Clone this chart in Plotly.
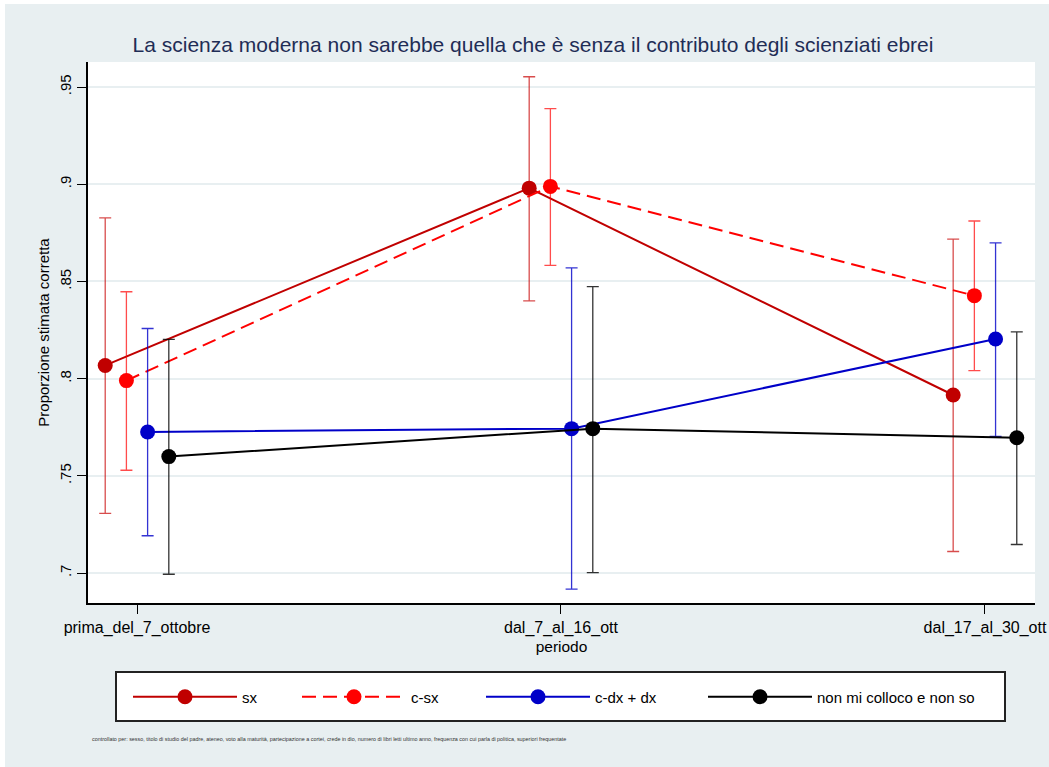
import plotly.graph_objects as go

# ---- data ----
categories = ["prima_del_7_ottobre", "dal_7_al_16_ott", "dal_17_al_30_ott"]
series_names = ["sx", "c-sx", "c-dx + dx", "non mi colloco e non so"]

sx = [0.8068, 0.8980, 0.7916]
sx_lo = [0.7307, 0.8400, 0.7111]
sx_hi = [0.8827, 0.9553, 0.8718]

csx = [0.7990, 0.8989, 0.8427]
csx_lo = [0.7529, 0.8583, 0.8041]
csx_hi = [0.8447, 0.9389, 0.8811]

cdx = [0.7726, 0.7743, 0.8204]
cdx_lo = [0.7192, 0.6917, 0.7703]
cdx_hi = [0.8258, 0.8570, 0.8699]

nonso = [0.7599, 0.7743, 0.7696]
nonso_lo = [0.6994, 0.7002, 0.7147]
nonso_hi = [0.8202, 0.8474, 0.8241]

offsets = [-0.075, -0.025, 0.025, 0.075]

y_ticks = [0.7, 0.75, 0.8, 0.85, 0.9, 0.95]
y_ticktext = [".7", ".75", ".8", ".85", ".9", ".95"]

title_text = "La scienza moderna non sarebbe quella che è senza il contributo degli scienziati ebrei"
ytitle = "Proporzione stimata corretta"
xtitle = "periodo"
footnote = ("controllato per: sesso, titolo di studio del padre, ateneo, voto alla maturità, "
            "partecipazione a cortei, crede in dio, numero di libri letti ultimo anno, "
            "frequenza con cui parla di politica, superiori frequentate")

# ---- styles ----
line_colors = ["#c00000", "#ff0000", "#0000c8", "#000000"]
ci_colors = ["rgba(200,0,0,0.7)", "rgba(255,0,0,0.7)", "rgba(0,0,200,0.8)", "rgba(0,0,0,0.8)"]
dashes = ["solid", "14px,7px", "solid", "solid"]
legend_ids = ["legend", "legend2", "legend3", "legend4"]
legend_px = [133, 302, 486, 708]   # left edge of each legend entry, in pixels
bg = "#e8eff1"
FONT = "Liberation Sans, Arial, Helvetica, sans-serif"

W, H = 1049, 767
L, R, T, B = 88, 14, 62, 164
PW, PH = W - L - R, H - T - B


def px_x(px):
    return (px - L) / PW


def px_y(py):
    return (H - B - py) / PH


fig = go.Figure()

all_series = [(sx, sx_lo, sx_hi), (csx, csx_lo, csx_hi), (cdx, cdx_lo, cdx_hi), (nonso, nonso_lo, nonso_hi)]
for i, (vals, lo, hi) in enumerate(all_series):
    xs = [c + offsets[i] for c in range(len(categories))]
    fig.add_trace(go.Scatter(
        x=xs, y=vals, name=series_names[i], mode="lines+markers", legend=legend_ids[i],
        line=dict(color=line_colors[i], width=2, dash=dashes[i]),
        marker=dict(color=line_colors[i], size=15),
        error_y=dict(type="data", symmetric=False,
                     array=[h - v for h, v in zip(hi, vals)],
                     arrayminus=[v - l for v, l in zip(vals, lo)],
                     color=ci_colors[i], thickness=1.3, width=6),
    ))

legend_common = dict(orientation="h", xanchor="left", yanchor="middle", y=px_y(697),
                     bgcolor="rgba(0,0,0,0)", borderwidth=0, itemwidth=104,
                     font=dict(size=15, family=FONT, color="black"), itemclick=False)
legends = {}
for lid, lx in zip(legend_ids, legend_px):
    legends[lid] = dict(legend_common, x=px_x(lx - 5))

fig.update_layout(
    width=W, height=H,
    margin=dict(l=L, r=R, t=T, b=B, autoexpand=False),
    paper_bgcolor=bg, plot_bgcolor="white",
    font=dict(family=FONT, size=15, color="black"),
    title=dict(text=title_text, x=533 / W, xanchor="center", y=1 - 45 / H, yanchor="middle",
               font=dict(size=21, color="#1f2d56", family=FONT)),
    showlegend=True,
    xaxis=dict(range=[-0.1156, 2.118], tickmode="array", tickvals=list(range(len(categories))),
               ticktext=categories, showgrid=False, zeroline=False, showline=True,
               linecolor="black", linewidth=1.5, ticks="outside", ticklen=9, tickcolor="black",
               tickwidth=1.3, tickfont=dict(size=16), automargin=False,
               title=dict(text=xtitle, font=dict(size=15.5), standoff=5)),
    yaxis=dict(range=[0.6846, 0.9629], tickmode="array", tickvals=y_ticks, ticktext=y_ticktext,
               tickangle=-90, showgrid=True, gridcolor=bg, gridwidth=2, zeroline=False,
               showline=True, linecolor="black", linewidth=1.5, ticks="outside", ticklen=9,
               tickcolor="black", tickwidth=1.3, tickfont=dict(size=15), automargin=False,
               title=dict(text=ytitle, font=dict(size=15), standoff=4)),
    shapes=[
        # legend box
        dict(type="rect", xref="paper", yref="paper", x0=px_x(116), x1=px_x(1005),
             y0=px_y(721), y1=px_y(672), fillcolor="white", line=dict(color="#222222", width=2),
             layer="below"),
        # thin white outer edges
        dict(type="rect", xref="paper", yref="paper", x0=px_x(0), x1=px_x(5), y0=px_y(H), y1=px_y(0),
             fillcolor="white", line=dict(width=0), layer="above"),
        dict(type="rect", xref="paper", yref="paper", x0=px_x(0), x1=px_x(W), y0=px_y(4), y1=px_y(0),
             fillcolor="white", line=dict(width=0), layer="above"),
    ],
    annotations=[
        dict(text=footnote, xref="paper", yref="paper", x=px_x(90), y=px_y(739), xanchor="left",
             yanchor="middle", showarrow=False, font=dict(size=5.4, color="#333333", family=FONT)),
    ],
    **legends,
)

fig.write_html("out.html", config={"displayModeBar": False},
               post_script="document.body.style.margin='0px';")
